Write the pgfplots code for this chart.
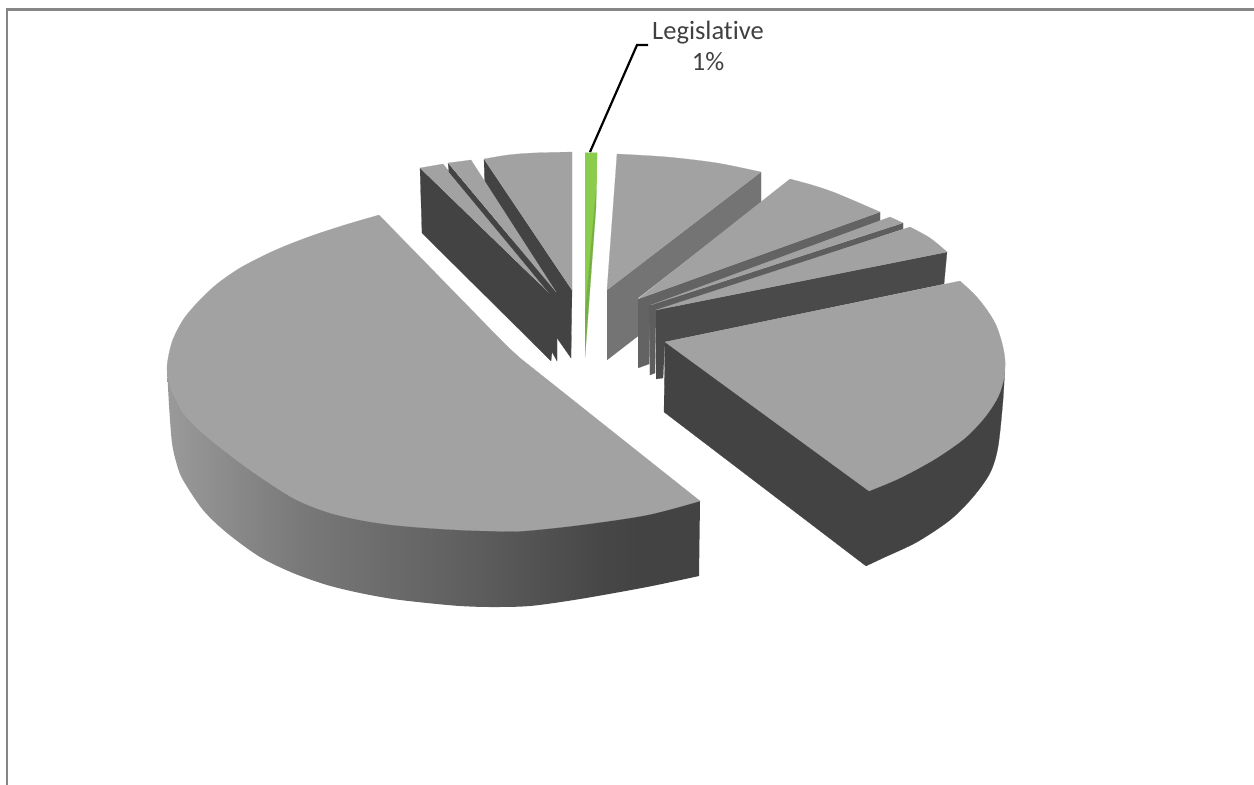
\documentclass[border=0pt]{standalone}
\usepackage{pgfplots}
\pgfplotsset{compat=1.18}
\usepackage{fontspec}
\setmainfont[Ligatures=NoCommon]{Carlito}
\definecolor{face}{HTML}{A2A2A2}
\definecolor{sideA}{HTML}{434343}
\definecolor{sideB}{HTML}{4A4A4A}
\definecolor{sideC}{HTML}{5E5E5E}
\definecolor{sideD}{HTML}{636363}
\definecolor{sideE}{HTML}{747474}
\definecolor{greenTop}{HTML}{8CCC4C}
\definecolor{greenSide}{HTML}{76B044}
\definecolor{frameline}{HTML}{868686}
\definecolor{rimA}{HTML}{9A9A9A}
\definecolor{rimB}{HTML}{797979}
\definecolor{rimC}{HTML}{606060}
\definecolor{rimD}{HTML}{474747}
\pgfdeclarehorizontalshading{rimshade}{100bp}{
  color(0bp)=(rimA); color(25bp)=(rimA); color(37.5bp)=(rimB);
  color(52.5bp)=(rimC); color(65.6bp)=(rimD); color(69.4bp)=(sideA); color(100bp)=(sideA)}
\pgfplotsset{
  face/.style={fill=#1,draw=#1,line width=0.2pt,forget plot},
}
\begin{document}
\begin{tikzpicture}
\begin{axis}[
  width=1254bp,height=785bp,scale only axis,
  xmin=0,xmax=1254,ymin=0,ymax=785,y dir=reverse,
  hide axis,no markers,
]
% keeps the full canvas in the bounding box
\addplot[draw=none,forget plot] coordinates {(0,0) (1254,785)};
% chart frame
\addplot[frameline,line width=2pt,forget plot] coordinates {(7,790) (7,8)};
\addplot[frameline,line width=3pt,forget plot] coordinates {(6,9.2) (1260,9.2)};

% legislative slice and its leader line
\addplot[face=greenSide] coordinates {(585,153)(597,153)(596,207)(585,357)};
\addplot[face=greenTop] coordinates {(585,153)(597,153)(596.5,182)(585,310)};
\addplot[black,line width=2.2bp,forget plot] coordinates {(590,152)(637,45)(648,45)};

% 9% slice
\addplot[face=sideE] coordinates {(607,290)(761,172)(761,203)(638,298)(638,336)(607,360)};
\addplot[face=face,smooth] coordinates {(617,154)(667,157)(717,163)(761,172)} -- (axis cs:607,290) -- cycle;

% thin slices to the right
\addplot[face=sideD] coordinates {(638,299)(880,212)(880,221)(650,306)(649,364)(638,368)};
\addplot[face=face,smooth] coordinates {(790,179)(812,185)(833,192)(857,202)(880,212)} -- (axis cs:638,299) -- cycle;
\addplot[face=sideC] coordinates {(651,305)(903,223)(903,229)(656,312)(655,373)(650,375)(649,306)};
\addplot[face=face] coordinates {(651,305)(890,217)(903,223)};
\addplot[face=sideB] coordinates {(656,310)(947,252)(944,284)(665,342)(663,378)(656,379)};
\addplot[face=face,smooth] coordinates {(910,227)(930,238)(947,252)} -- (axis cs:656,310) -- cycle;

% right hand slice
\addplot[face=sideA,smooth] coordinates {(1005,363)(1003,400)(998,447)(990,473)(973,497)(950,520)(917,542)(883,558)(866,566)} -- (axis cs:664,412) -- (axis cs:665,342) -- cycle;
\addplot[face=face,smooth] coordinates {(960,281)(975,295)(987,310)(996,325)(1002,343)(1005,360)(1004,378)(998,397)(985,417)(965,438)(935,459)(900,478)(869,491)} -- (axis cs:665,342) -- cycle;

% thin slices to the left
\addplot[face=sideA] coordinates {(484,159)(485,195)(540,285)(545,320)(557,338)(571,358)(572,290)};
\addplot[face=sideA] coordinates {(420,168)(422,233)(551,361)(552,352)(557,361)(557,338)(556,292)(549,293)};
\addplot[face=face] coordinates {(420,168)(443,164)(549,293)};
\addplot[face=sideA] coordinates {(448,163)(449,172)(550,294)(556,292)};
\addplot[face=face] coordinates {(448,163)(471,160)(556,292)};
\addplot[face=face,smooth] coordinates {(484,159)(508,155)(533,153)(572,152)} -- (axis cs:572,290) -- cycle;

% large slice: shaded rim, then its top
\addplot[draw=none,forget plot,shade,shading=rimshade,smooth]
  coordinates {(167,367)(169,405)(172,443)(177,465)(183,480)(203,510)(227,533)(260,557)(293,573)(327,585)(360,593)(393,599)(427,603)(460,606)(490,607)(530,606)(580,599)(647,587)(699,576)}
  -- (axis cs:700,501) -- (axis cs:400,400) -- cycle;
\addplot[face=face,smooth] coordinates {(379,215)(348,224)(317,234)(290,244)(267,254)(240,268)(217,284)(198,302)(183,320)(172,342)(167,367)(170,387)(177,402)(183,413)(198,429)(217,445)(250,470)(293,498)(327,512)(360,520)(393,525)(427,528)(460,530)(490,531)(523,531)(580,525)(647,515)(700,501)}
  -- (axis cs:520,358) -- (axis cs:508,347) -- (axis cs:500,339) -- cycle;

\node[text=black!75,font=\fontsize{26.6}{31}\selectfont,align=center,anchor=center] at (axis cs:708,46) {Legislative\\1\%};
\end{axis}
\end{tikzpicture}
\end{document}
